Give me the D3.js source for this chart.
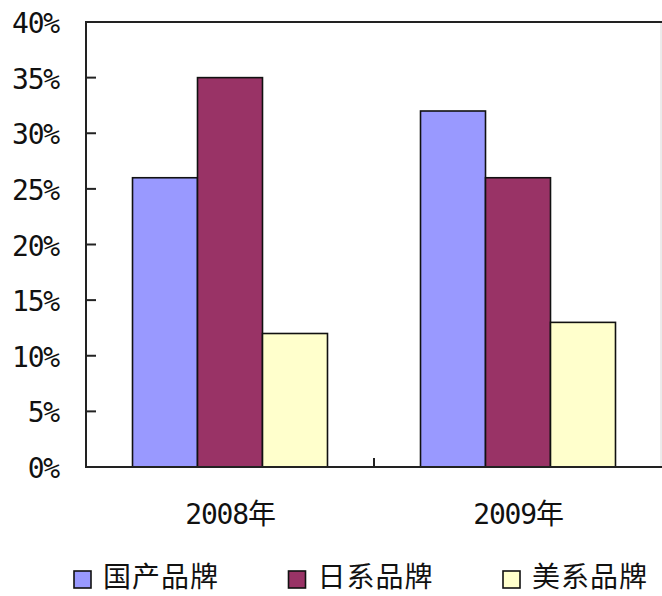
<!DOCTYPE html>
<html>
<head>
<meta charset="utf-8">
<script src="https://cdn.jsdelivr.net/npm/d3@7"></script>
<style>
  body { margin: 0; background: #fff; }
  svg { display: block; }
</style>
</head>
<body>
<div id="chart"></div>
<script>
// data
const years = ["2008年", "2009年"];
const brands = ["国产品牌", "日系品牌", "美系品牌"];
const domestic = [26, 32];
const japanese = [35, 26];
const american = [12, 13];
const yTicks = [0, 5, 10, 15, 20, 25, 30, 35, 40];

const colors = ["#9999FF", "#993366", "#FFFFCC"];
const seriesValues = [domestic, japanese, american];

const width = 662, height = 596;
const plot = { left: 86, top: 22, right: 662, bottom: 467 };
const numFont = "'DejaVu Sans Mono', 'Noto Sans CJK SC', monospace";
const cjkFont = "'Noto Sans CJK SC', sans-serif";

const svg = d3.select("#chart").append("svg")
    .attr("width", width)
    .attr("height", height);

const x0 = d3.scaleBand()
    .domain(years)
    .range([plot.left, plot.right])
    .paddingInner(0.323)
    .paddingOuter(0.1615);

const x1 = d3.scaleBand()
    .domain(brands)
    .range([0, x0.bandwidth()])
    .padding(0);

const y = d3.scaleLinear()
    .domain([0, 40])
    .range([plot.bottom, plot.top]);

// faint right border of the plot area
svg.append("line")
    .attr("x1", plot.right - 1).attr("x2", plot.right - 1)
    .attr("y1", plot.top).attr("y2", plot.bottom)
    .attr("stroke", "#d8d8d8")
    .attr("stroke-width", 1);

// bars
const groups = svg.append("g")
    .selectAll("g")
    .data(years)
    .join("g")
    .attr("transform", d => `translate(${x0(d)},0)`);

groups.selectAll("rect")
    .data((d, i) => brands.map((b, j) => ({ brand: b, value: seriesValues[j][i], color: colors[j] })))
    .join("rect")
    .attr("x", d => x1(d.brand))
    .attr("y", d => y(d.value))
    .attr("width", x1.bandwidth())
    .attr("height", d => y(0) - y(d.value))
    .attr("fill", d => d.color)
    .attr("stroke", "#111")
    .attr("stroke-width", 1.6);

// frame: top, left, bottom
svg.append("path")
    .attr("d", `M${plot.right},${plot.top}H${plot.left}V${plot.bottom}H${plot.right}`)
    .attr("fill", "none")
    .attr("stroke", "#222")
    .attr("stroke-width", 2);

// y axis ticks (inward) and labels
const yAxis = svg.append("g");
yAxis.selectAll("line")
    .data(yTicks.slice(1, -1))
    .join("line")
    .attr("x1", plot.left).attr("x2", plot.left + 10)
    .attr("y1", d => y(d)).attr("y2", d => y(d))
    .attr("stroke", "#222")
    .attr("stroke-width", 2);

yAxis.selectAll("text")
    .data(yTicks)
    .join("text")
    .attr("x", 59)
    .attr("y", d => y(d) + 11)
    .attr("text-anchor", "end")
    .attr("font-family", numFont)
    .attr("font-size", 28)
    .attr("letter-spacing", -1.2)
    .attr("fill", "#111")
    .text(d => d + "%");

// category divider tick
svg.append("line")
    .attr("x1", x0(years[1]) - x0.step() * x0.paddingInner() / 2)
    .attr("x2", x0(years[1]) - x0.step() * x0.paddingInner() / 2)
    .attr("y1", plot.bottom).attr("y2", plot.bottom - 9)
    .attr("stroke", "#222")
    .attr("stroke-width", 2);

// x labels
svg.append("g")
    .selectAll("text")
    .data(years)
    .join("text")
    .attr("x", d => x0(d) + x0.bandwidth() / 2)
    .attr("y", 524)
    .attr("text-anchor", "middle")
    .attr("font-family", numFont)
    .attr("font-size", 28)
    .attr("letter-spacing", -1.2)
    .attr("fill", "#111")
    .text(d => d);

// legend
const legend = svg.append("g")
    .selectAll("g")
    .data(brands)
    .join("g")
    .attr("transform", (d, i) => `translate(${74 + i * 214.5},571)`);

legend.append("rect")
    .attr("width", 17)
    .attr("height", 17)
    .attr("fill", (d, i) => colors[i])
    .attr("stroke", "#111")
    .attr("stroke-width", 1.6);

legend.append("text")
    .attr("x", 29)
    .attr("y", 16)
    .attr("font-family", cjkFont)
    .attr("font-size", 28)
    .attr("letter-spacing", 1)
    .attr("fill", "#111")
    .text(d => d);
</script>
</body>
</html>
